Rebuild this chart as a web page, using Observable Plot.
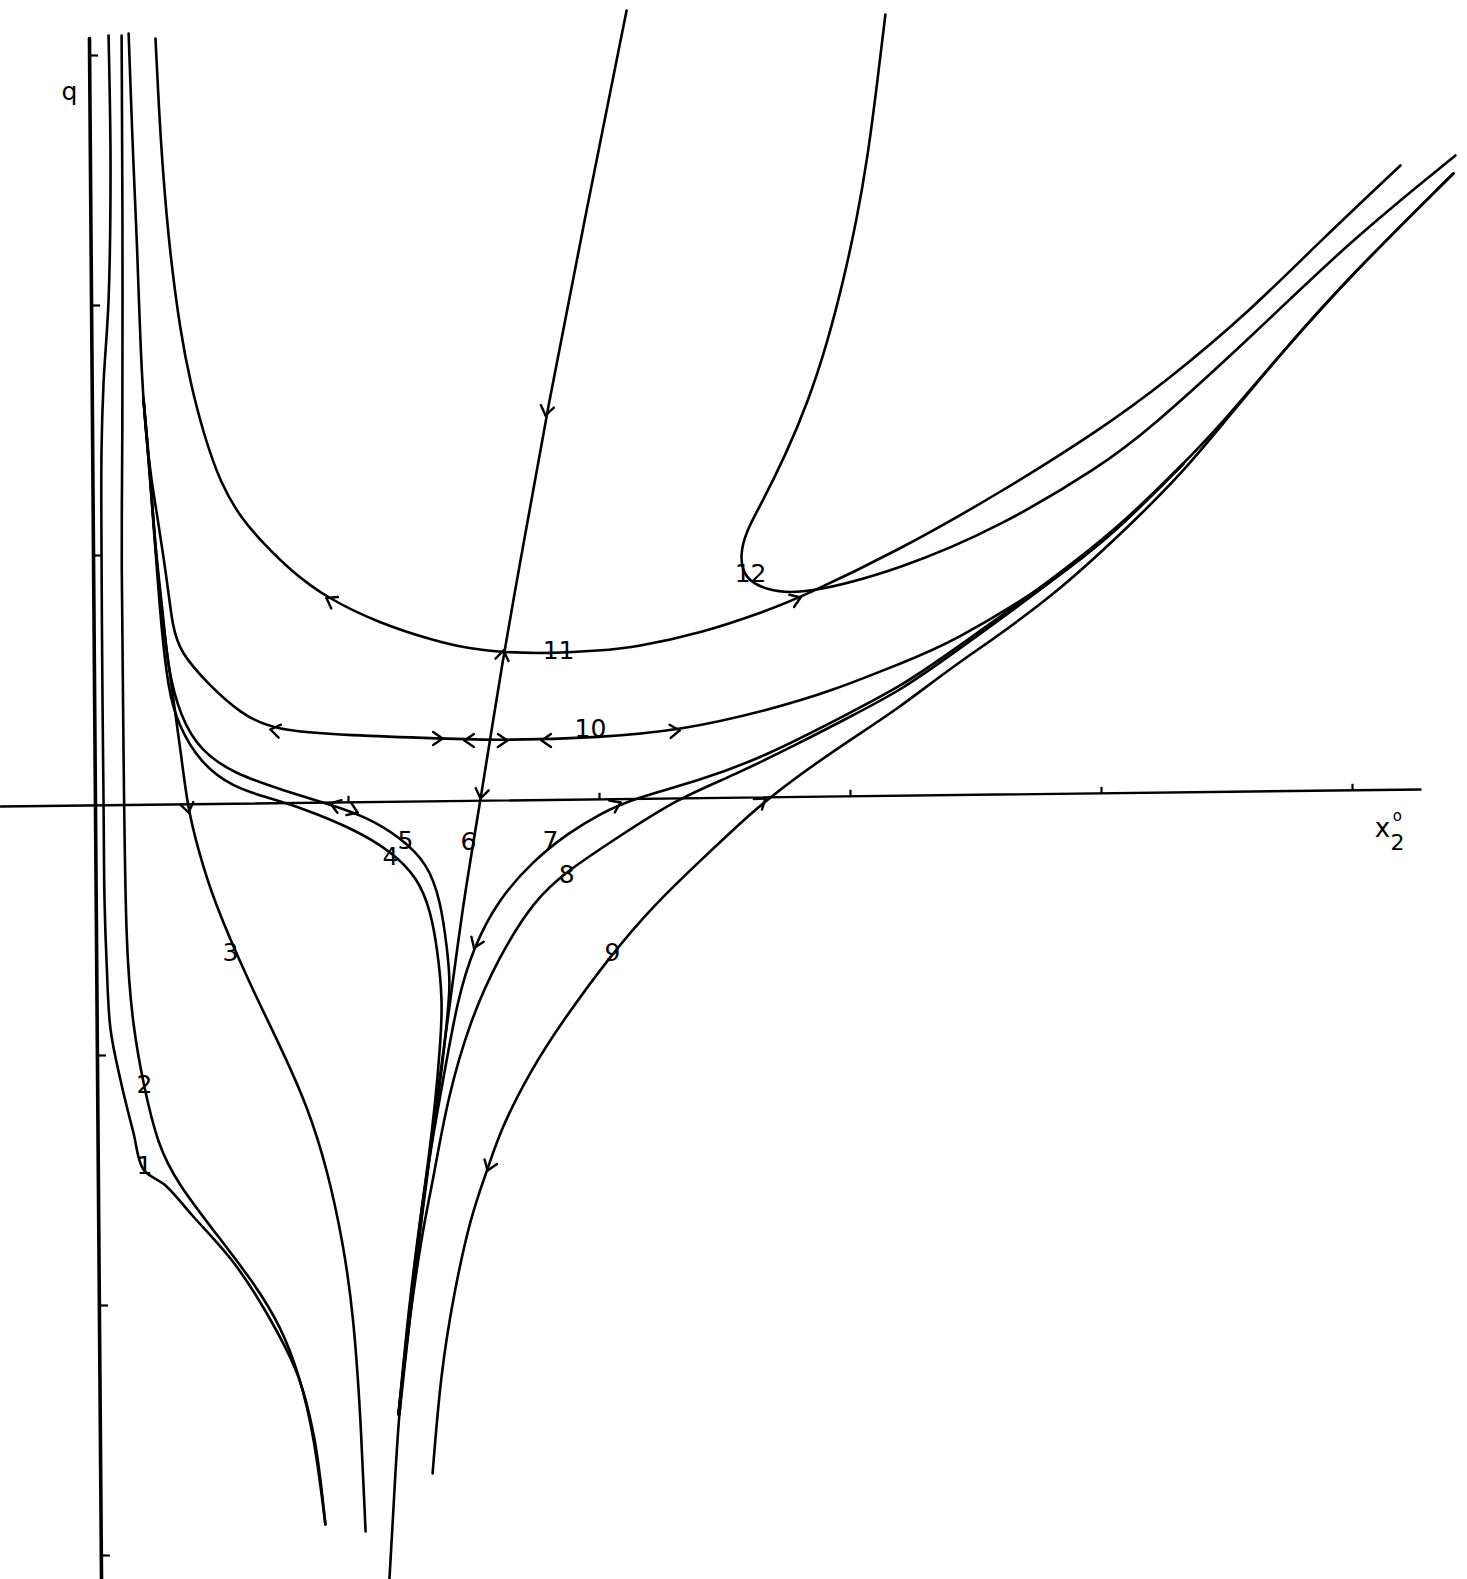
<!DOCTYPE html>
<html>
<head>
<meta charset="utf-8">
<script src="https://cdn.jsdelivr.net/npm/d3@7"></script>
<script src="https://cdn.jsdelivr.net/npm/@observablehq/plot@0.6"></script>
<style>
  html, body { margin: 0; padding: 0; background: #fff; }
  #chart svg { display: block; }
</style>
</head>
<body>
<div id="chart"></div>
<script>
// ---- Trajectories (x2°, q), in tick units ----
const curve1 = [[0.044,3.08],[0.052,2.552],[0.044,2.02],[0.024,1.688],[0.016,1.42],[0.016,1.02],[0.020,0.42],[0.024,0.02],[0.028,-0.38],[0.036,-0.62],[0.052,-0.896],[0.092,-1.10],[0.143,-1.308],[0.183,-1.456],[0.271,-1.52],[0.378,-1.64],[0.542,-1.828],[0.677,-2.036],[0.797,-2.276],[0.861,-2.516],[0.908,-2.876]];
const curve2 = [[0.096,3.08],[0.100,2.42],[0.100,1.42],[0.094,1.02],[0.104,0.22],[0.112,-0.58],[0.143,-0.896],[0.183,-1.116],[0.239,-1.356],[0.319,-1.512],[0.478,-1.72],[0.622,-1.908],[0.729,-2.08],[0.805,-2.28],[0.863,-2.52],[0.908,-2.876]];
const curve3 = [[0.183,1.628],[0.203,1.42],[0.231,1.02],[0.251,0.82],[0.275,0.62],[0.303,0.42],[0.331,0.22],[0.359,-0.008],[0.402,-0.18],[0.462,-0.38],[0.598,-0.696],[0.729,-0.964],[0.837,-1.204],[0.916,-1.456],[0.980,-1.756],[1.020,-2.04],[1.048,-2.436],[1.068,-2.904]];
const curve4 = [[0.183,1.628],[0.207,1.34],[0.231,1.02],[0.255,0.70],[0.283,0.46],[0.319,0.328],[0.410,0.168],[0.542,0.072],[0.677,0.032],[0.809,-0.008],[1.008,-0.088],[1.167,-0.18],[1.275,-0.288],[1.327,-0.42],[1.355,-0.58],[1.375,-0.78],[1.367,-0.94],[1.347,-1.18],[1.315,-1.448],[1.295,-1.58],[1.247,-1.98],[1.199,-2.436]];
const curve5 = [[0.183,1.628],[0.211,1.30],[0.231,1.02],[0.263,0.752],[0.279,0.552],[0.331,0.352],[0.410,0.22],[0.542,0.128],[0.741,0.06],[0.940,0.0],[1.076,-0.048],[1.207,-0.128],[1.315,-0.232],[1.367,-0.38],[1.394,-0.58],[1.406,-0.712],[1.394,-0.848],[1.367,-1.10],[1.327,-1.38],[1.295,-1.62],[1.247,-2.02],[1.203,-2.436]];
const curve6 = [[2.108,3.18],[1.948,2.38],[1.789,1.568],[1.693,1.02],[1.618,0.608],[1.526,0.02],[1.458,-0.38],[1.406,-0.78],[1.351,-1.18],[1.299,-1.58],[1.247,-1.98],[1.199,-2.436],[1.179,-2.82],[1.163,-3.096]];
const curve7 = [[1.199,-2.436],[1.239,-2.02],[1.279,-1.70],[1.319,-1.42],[1.378,-1.092],[1.434,-0.776],[1.498,-0.568],[1.594,-0.38],[1.737,-0.22],[1.873,-0.112],[2.004,-0.032],[2.135,0.028],[2.402,0.10],[2.669,0.20],[3.0,0.372],[3.199,0.476],[3.398,0.612],[3.797,0.90],[4.064,1.108],[4.327,1.368],[4.462,1.508],[4.725,1.82],[4.992,2.12],[5.402,2.528]];
const curve8 = [[1.199,-2.436],[1.247,-2.02],[1.295,-1.70],[1.339,-1.488],[1.394,-1.172],[1.486,-0.856],[1.594,-0.616],[1.737,-0.38],[1.873,-0.26],[2.072,-0.128],[2.311,0.028],[2.534,0.12],[2.801,0.252],[3.0,0.356],[3.199,0.46],[3.398,0.60],[3.797,0.892],[4.064,1.10],[4.327,1.368]];
const curve9 = [[1.335,-2.672],[1.367,-2.276],[1.418,-1.96],[1.486,-1.644],[1.554,-1.456],[1.606,-1.296],[1.725,-1.06],[1.857,-0.856],[2.044,-0.60],[2.215,-0.40],[2.402,-0.22],[2.534,-0.096],[2.669,0.028],[2.932,0.22],[3.199,0.392],[3.398,0.552],[3.797,0.82],[4.195,1.20],[4.327,1.34],[4.462,1.50],[4.725,1.82],[4.992,2.12],[5.402,2.528]];
const curve10 = [[0.124,3.088],[0.143,2.552],[0.159,2.22],[0.171,1.82],[0.191,1.488],[0.215,1.30],[0.239,1.152],[0.279,0.888],[0.299,0.712],[0.331,0.612],[0.438,0.488],[0.570,0.368],[0.701,0.30],[1.008,0.28],[1.367,0.268],[1.625,0.26],[2.004,0.272],[2.323,0.30],[2.669,0.38],[2.932,0.46],[3.199,0.568],[3.398,0.648],[3.797,0.888],[4.064,1.10],[4.327,1.368]];
const curve11 = [[0.231,3.068],[0.243,2.82],[0.259,2.552],[0.287,2.22],[0.331,1.888],[0.371,1.688],[0.422,1.488],[0.490,1.288],[0.570,1.152],[0.661,1.048],[0.769,0.94],[0.916,0.828],[1.127,0.728],[1.339,0.66],[1.474,0.628],[1.618,0.612],[1.805,0.608],[2.004,0.62],[2.135,0.632],[2.402,0.688],[2.669,0.78],[2.801,0.832],[3.199,1.024],[3.598,1.252],[3.996,1.504],[4.263,1.70],[4.594,1.98],[4.861,2.248],[5.191,2.56]];
const curve12 = [[3.139,3.164],[3.108,2.904],[3.068,2.588],[3.024,2.34],[2.972,2.10],[2.908,1.852],[2.833,1.62],[2.741,1.40],[2.641,1.20],[2.586,1.10],[2.558,1.0],[2.578,0.906],[2.665,0.862],[2.801,0.84],[3.199,0.944],[3.598,1.116],[3.996,1.356],[4.195,1.508],[4.594,1.872],[4.992,2.26],[5.410,2.60]];

// ---- Direction arrows on the trajectories: tip position and heading (degrees) ----
const arrowX     = [0.912, 0.689, 1.375, 1.462, 1.633, 1.769, 2.319, 1.618, 1.526, 1.785, 0.928, 1.036, 2.084, 1.500, 2.661, 1.554, 2.801, 0.363];
const arrowY     = [0.830, 0.304, 0.268, 0.260, 0.260, 0.260, 0.300, 0.620, 0.028, 1.560, 0.008, -0.028, 0.012, -0.570, 0.028, -1.460, 0.832, -0.028];
const arrowAngle = [150,   170,   0,     180,   0,     180,   5,     80,    260,   259,   162,   -22,    25,    248,    38,    250,    21,    281];

// ---- Curve number labels ----
const labelText = ["1","2","3","4","5","6","7","8","9","10","11","12"];
const labelX    = [0.187, 0.187, 0.530, 1.167, 1.227, 1.478, 1.805, 1.869, 2.052, 1.964, 1.837, 2.602];
const labelY    = [-1.44, -1.116, -0.588, -0.204, -0.14, -0.144, -0.14, -0.276, -0.588, 0.308, 0.62, 0.928];

// ---- Axes (the drawing is slightly rotated) ----
const xAxisEnds = [[-0.386,-0.004],[5.271,0.064]];
const yAxisEnds = [[-0.032,3.068],[0.016,-3.096]];
const xTicks = [1,2,3,4,5];
const yTicks = [3,2,1,-1,-2,-3];

// ---- Build tables ----
const smoothCurves = [curve2,curve3,curve4,curve5,curve6,curve7,curve8,curve9,curve10,curve11,curve12];
const sharpCurves = [curve1];
const toRows = list => list.flatMap((c, i) => c.map(([x, y]) => ({id: i + 1, x, y})));

const axisYAt = X => xAxisEnds[0][1] + (X - xAxisEnds[0][0]) * (xAxisEnds[1][1] - xAxisEnds[0][1]) / (xAxisEnds[1][0] - xAxisEnds[0][0]);
const axisXAt = Y => yAxisEnds[0][0] + (Y - yAxisEnds[0][1]) * (yAxisEnds[1][0] - yAxisEnds[0][0]) / (yAxisEnds[1][1] - yAxisEnds[0][1]);

const tickSegs = [
  ...xTicks.map(t => ({x1: t, y1: axisYAt(t), x2: t, y2: axisYAt(t) + 0.026})),
  ...yTicks.map(t => ({x1: axisXAt(t), y1: t, x2: axisXAt(t) + 0.034, y2: t}))
];

const armLen = 0.046, half = 35 * Math.PI / 180;
const arrowSegs = arrowX.flatMap((x, i) => {
  const a = arrowAngle[i] * Math.PI / 180, y = arrowY[i];
  return [a + half, a - half].map(b => ({x1: x, y1: y, x2: x - armLen * Math.cos(b), y2: y - armLen * Math.sin(b)}));
});

const labels = labelText.map((t, i) => ({t, x: labelX[i], y: labelY[i]}));

const W = 1467, H = 1579;
const ink = "#000";
const chart = Plot.plot({
  width: W,
  height: H,
  margin: 0,
  style: {background: "#fff", fontFamily: "DejaVu Sans"},
  x: {domain: [-97 / 251, 1370 / 251], axis: null},
  y: {domain: [-774 / 250, 805 / 250], axis: null},
  marks: [
    Plot.line(xAxisEnds, {x: d => d[0], y: d => d[1], stroke: ink, strokeWidth: 2.4}),
    Plot.line(yAxisEnds, {x: d => d[0], y: d => d[1], stroke: ink, strokeWidth: 3.6}),
    Plot.link(tickSegs, {x1: "x1", y1: "y1", x2: "x2", y2: "y2", stroke: ink, strokeWidth: 2.2}),
    Plot.line(toRows(smoothCurves), {x: "x", y: "y", z: "id", curve: "basis", stroke: ink, strokeWidth: 2.6}),
    Plot.line(toRows(sharpCurves), {x: "x", y: "y", z: "id", curve: "catmull-rom", stroke: ink, strokeWidth: 2.6}),
    Plot.link(arrowSegs, {x1: "x1", y1: "y1", x2: "x2", y2: "y2", stroke: ink, strokeWidth: 2.4, strokeLinecap: "round"}),
    Plot.text(labels, {x: "x", y: "y", text: "t", fontSize: 25, fill: ink, fontFamily: "DejaVu Sans"}),
    Plot.text(["q"], {x: [-0.112], y: [2.856], text: d => d, fontSize: 25, fill: ink, fontFamily: "DejaVu Sans"}),
    Plot.text(["x"], {x: [5.119], y: [-0.092], text: d => d, fontSize: 26, fill: ink, fontFamily: "DejaVu Sans"}),
    Plot.text(["o"], {x: [5.179], y: [-0.044], text: d => d, fontSize: 15, fill: ink, fontFamily: "DejaVu Sans"}),
    Plot.text(["2"], {x: [5.179], y: [-0.148], text: d => d, fontSize: 22, fill: ink, fontFamily: "DejaVu Sans"})
  ]
});
document.getElementById("chart").appendChild(chart);
</script>
</body>
</html>
